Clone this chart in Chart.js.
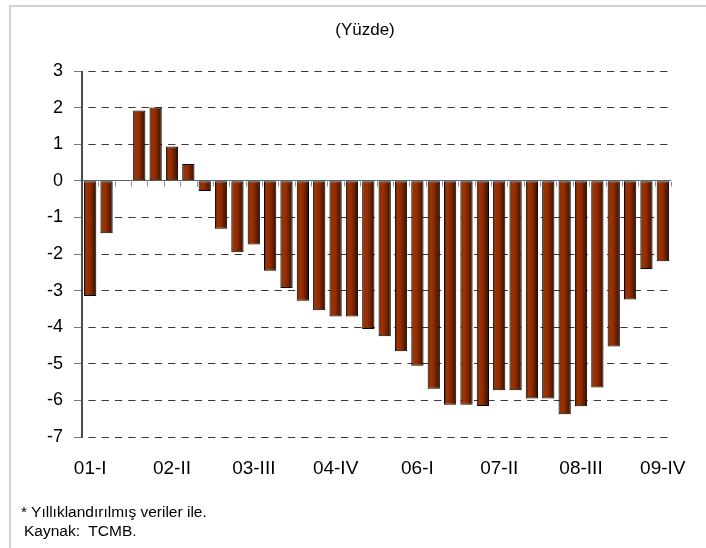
<!DOCTYPE html>
<html>
<head>
<meta charset="utf-8">
<script src="https://cdn.jsdelivr.net/npm/chart.js@4"></script>
<style>
  html, body { margin: 0; padding: 0; background: #fff; }
  #wrap { position: relative; width: 706px; height: 548px; overflow: hidden; }
  #frame { position: absolute; left: 9px; top: 5px; right: 0; bottom: 0;
           border-left: 2px solid #d6d2ca; border-top: 2px solid #d6d2ca; }
  #title { position: absolute; left: 265px; width: 200px; top: 20px; text-align: center;
           font: 17px "Liberation Sans", Arial, sans-serif; color: #000; }
  .note { position: absolute; font: 15.5px "Liberation Sans Narrow", "Arial Narrow", sans-serif; color: #000; }
  canvas { position: absolute; left: 0; top: 0; }
</style>
</head>
<body>
<div id="wrap">
  <div id="frame"></div>
  <canvas id="myChart" width="706" height="548"></canvas>
  <div id="title">(Yüzde)</div>
  <div class="note" style="left:21px; top:503px;">* Yıllıklandırılmış veriler ile.</div>
  <div class="note" style="left:24px; top:522px;">Kaynak:&nbsp; TCMB.</div>
</div>
<script>
var quarters = ['01-I', '01-II', '01-III', '01-IV',
                '02-I', '02-II', '02-III', '02-IV',
                '03-I', '03-II', '03-III', '03-IV',
                '04-I', '04-II', '04-III', '04-IV',
                '05-I', '05-II', '05-III', '05-IV',
                '06-I', '06-II', '06-III', '06-IV',
                '07-I', '07-II', '07-III', '07-IV',
                '08-I', '08-II', '08-III', '08-IV',
                '09-I', '09-II', '09-III', '09-IV'];

var values = [-3.15, -1.43, 0, 1.92,
              2.00, 0.94, 0.46, -0.28,
              -1.31, -1.95, -1.74, -2.46,
              -2.93, -3.28, -3.54, -3.71,
              -3.71, -4.05, -4.25, -4.66,
              -5.05, -5.68, -6.12, -6.12,
              -6.15, -5.72, -5.72, -5.95,
              -5.95, -6.38, -6.16, -5.65,
              -4.53, -3.24, -2.41, -2.20];

var yMin = -7, yMax = 3;
var labelEvery = 5;

var barPct = 0.75;

// shaded brown fill, dark on the right edge
function barFill(c) {
    var chart = c.chart;
    var xs = chart.scales.x;
    if (!chart.chartArea || !xs || c.dataIndex === undefined) return '#8f2c00';
    var cx = xs.getPixelForValue(c.dataIndex);
    var w = (xs.width / quarters.length) * barPct;
    var g = chart.ctx.createLinearGradient(cx - w / 2, 0, cx + w / 2, 0);
    g.addColorStop(0, '#4a1400');
    g.addColorStop(0.2, '#a03300');
    g.addColorStop(0.45, '#922e00');
    g.addColorStop(0.8, '#5a1a00');
    g.addColorStop(1, '#1e0600');
    return g;
}

// value axis line and the small category ticks under the zero line
var axisMarks = {
    id: 'axisMarks',
    afterDraw: function(chart) {
        var area = chart.chartArea;
        var ys = chart.scales.y;
        var y0 = Math.round(ys.getPixelForValue(0)) + 0.5;
        var step = (area.right - area.left) / quarters.length;
        var ctx = chart.ctx;
        ctx.save();
        ctx.setLineDash([]);
        ctx.lineWidth = 1;

        ctx.strokeStyle = '#8a8a8a';
        ctx.beginPath();
        for (var i = 1; i <= quarters.length; i++) {
            var x = Math.round(area.left + i * step) + 0.5;
            ctx.moveTo(x, y0);
            ctx.lineTo(x, y0 + 5);
        }
        ctx.stroke();

        ctx.strokeStyle = '#4a4a4a';
        ctx.lineWidth = 2;
        ctx.beginPath();
        ctx.moveTo(Math.round(area.left), area.top);
        ctx.lineTo(Math.round(area.left), area.bottom + 1);
        ctx.stroke();
        ctx.restore();
    }
};

var tickFont = { family: '"Liberation Sans", Arial, sans-serif', size: 18 };

var ctx = document.getElementById('myChart').getContext('2d');
var myChart = new Chart(ctx, {
    type: 'bar',
    data: {
        labels: quarters,
        datasets: [{
            data: values,
            backgroundColor: barFill,
            borderColor: '#000',
            borderWidth: function(c) { return c.raw === 0 ? 0 : 1; },
            borderSkipped: false,
            categoryPercentage: 1,
            barPercentage: barPct
        }]
    },
    options: {
        responsive: false,
        animation: false,
        layout: { padding: { left: 22, right: 34, top: 71, bottom: 71 } },
        plugins: {
            legend: { display: false },
            title: { display: false },
            tooltip: { enabled: false }
        },
        scales: {
            x: {
                afterFit: function(s) { s.height = 40; },
                grid: { display: false, drawTicks: false },
                border: { display: false },
                ticks: {
                    autoSkip: false,
                    maxRotation: 0,
                    padding: 20,
                    color: '#000',
                    font: { family: tickFont.family, size: 19 },
                    callback: function(v, i) { return i % labelEvery === 0 ? quarters[i] : null; }
                }
            },
            y: {
                min: yMin,
                max: yMax,
                afterFit: function(s) { s.width = 60; },
                ticks: {
                    stepSize: 1,
                    padding: 11,
                    color: '#000',
                    font: tickFont
                },
                grid: {
                    color: function(c) { return c.tick && c.tick.value === 0 ? '#666' : '#3a3a3a'; },
                    lineWidth: 1,
                    tickLength: 8,
                    tickColor: '#777',
                    tickBorderDash: []
                },
                border: {
                    display: false,
                    // dashed grid lines, solid zero line
                    dash: function(c) { return c.tick && c.tick.value !== 0 ? [7.3, 6] : []; },
                    dashOffset: 7
                }
            }
        }
    },
    plugins: [axisMarks]
});
</script>
</body>
</html>
